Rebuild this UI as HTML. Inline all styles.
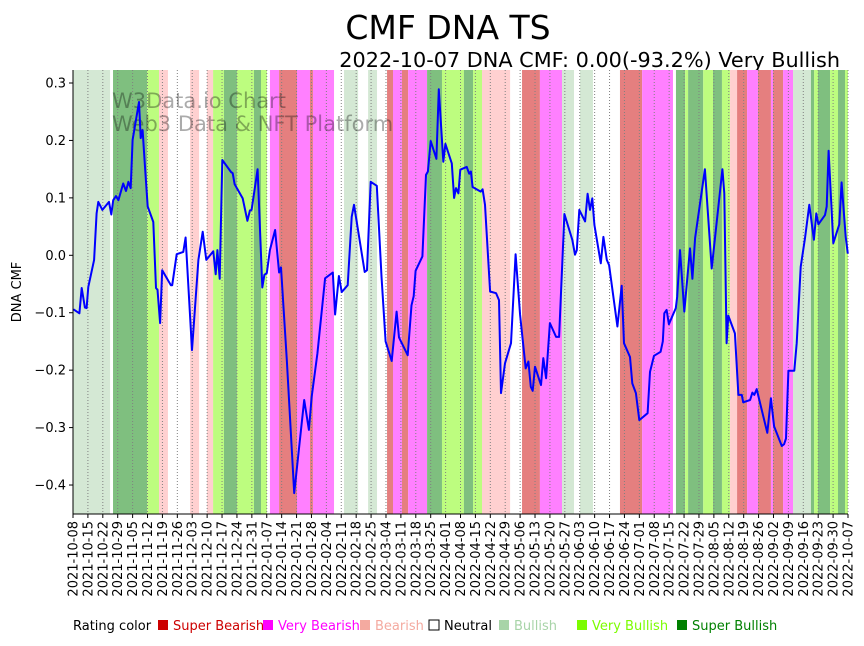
<!DOCTYPE html>
<html><head><meta charset="utf-8"><style>
body{margin:0;background:#fff;}
svg text{font-family:"DejaVu Sans","Liberation Sans",sans-serif;}
</style></head><body>
<svg id="chart" width="864" height="641" xmlns="http://www.w3.org/2000/svg">
<text x="448" y="39" font-size="33" text-anchor="middle">CMF DNA TS</text>
<text x="840" y="67" font-size="20.8" text-anchor="end">2022-10-07 DNA CMF: 0.00(-93.2%) Very Bullish</text>
<g id="bands"></g>
<g id="grid"></g>
<text x="112" y="108" font-size="21" fill="#000" fill-opacity="0.33">W3Data.io Chart</text>
<text x="112" y="131" font-size="21" fill="#000" fill-opacity="0.33">Web3 Data &amp; NFT Platform</text>
<g id="series"></g>
<g id="axes"></g>
<text transform="translate(21,292) rotate(-90)" font-size="13" text-anchor="middle">DNA CMF</text>
<g id="legend"></g>
</svg>
<script>
const ratingNames=["Super Bearish","Very Bearish","Bearish","Neutral","Bullish","Very Bullish","Super Bullish"];
const ratingColors=["#cc0000","#ff00ff","#f4aaa0","#ffffff","#a8d4a8","#7cfc00","#008000"];
const bandFills=["#e57f7f","#ff80ff","#ffd0d0","#ffffff","#d4e8d4","#bdfd7f","#7fbf7f"];
const bandStart=[0,18.8,34.8,40.4,55,62.9,65.8,70.9,77,85,88.3,92.5,96.8,105.2,111.3,112.7,127.3,138.6,147.5,150.3,154.5,157.4,166.3,173.3,183.6,187.9,192.1,210.9,219.3,229.7,238.1,256.9,267.3,283.2,287.5,288.9,296,300.6,304.8,308.6,311.9,316.6,321.7,327.8,328.8,333.5,338.2,346.6,348.1,349.9,355.6,359.3,362.6];
const bandEnd=[17.4,34.8,40.4,44.6,59.2,65.8,70.9,77,85,88.3,91.1,96.8,105.2,111.3,112.7,122.6,133.9,142.8,150.3,154.5,157.4,166.3,173.3,183.6,187.9,192.1,205.3,219.3,229.7,235.3,244.2,267.3,281.8,287.5,288.9,296,300.6,304.8,308.6,311.9,316.6,321.7,327.8,328.8,333.5,338.2,346.6,348.1,349.9,355.6,359.3,362.6,364];
const bandRating=[4,6,5,2,2,2,5,6,5,6,5,1,0,1,0,1,4,4,0,1,0,1,6,5,6,5,2,0,1,4,4,0,1,6,5,6,5,6,5,2,0,1,0,1,0,1,4,6,5,6,5,6,5];
const days=[0.2,3.0,4.1,5.6,6.4,7.2,9.9,11.1,11.9,13.8,16.9,18.0,18.9,20.2,21.3,23.6,24.9,26.0,27.1,28.0,31.0,31.8,32.7,33.8,35.1,37.7,39.0,39.7,40.9,41.9,46.0,46.6,48.7,51.8,52.9,55.9,58.9,60.9,62.6,65.9,67.0,67.8,68.9,70.1,74.2,75.0,75.9,79.7,81.9,83.1,83.9,86.7,88.9,89.9,91.0,92.5,94.9,96.8,97.7,100.4,103.9,108.6,110.8,112.1,114.8,118.4,122.0,123.1,124.9,126.2,129.0,130.9,132.0,137.0,138.1,139.8,142.7,144.9,146.8,149.7,152.0,153.1,157.2,159.0,160.0,160.9,164.1,165.8,166.7,168.0,170.7,171.8,173.9,174.9,177.9,179.0,179.9,181.0,181.9,184.9,186.1,186.9,187.7,191.5,192.4,193.5,195.9,198.7,200.1,201.0,202.9,205.7,207.9,210.0,212.6,213.9,215.0,215.9,217.0,219.8,220.9,222.2,224.0,226.9,228.3,230.8,234.5,235.8,236.6,237.8,240.5,241.7,242.8,243.9,244.9,247.9,249.1,250.7,251.8,255.7,257.7,258.8,261.6,262.7,264.4,266.0,269.9,271.0,272.9,276.0,277.0,277.7,278.8,279.9,283.1,283.8,285.1,287.1,289.8,290.9,292.2,296.8,300.0,305.0,305.9,307.0,307.8,310.9,312.5,314.1,314.8,318.0,319.1,320.0,321.1,326.1,327.8,329.3,332.9,334.0,334.9,336.0,338.8,339.9,341.8,343.8,345.8,348.0,349.1,350.1,353.2,354.0,354.9,357.1,359.9,361.0,362.9,363.9];
const values=[-0.094,-0.101,-0.057,-0.091,-0.092,-0.055,-0.008,0.073,0.093,0.079,0.093,0.071,0.096,0.103,0.096,0.125,0.112,0.128,0.117,0.201,0.267,0.204,0.218,0.154,0.085,0.058,-0.057,-0.060,-0.118,-0.026,-0.052,-0.052,0.002,0.006,0.031,-0.165,-0.008,0.041,-0.008,0.007,-0.033,0.009,-0.041,0.166,0.145,0.143,0.124,0.099,0.060,0.078,0.079,0.150,-0.056,-0.034,-0.031,0.009,0.044,-0.030,-0.021,-0.182,-0.414,-0.252,-0.304,-0.246,-0.171,-0.040,-0.030,-0.103,-0.036,-0.064,-0.052,0.067,0.088,-0.029,-0.026,0.128,0.121,-0.037,-0.150,-0.184,-0.098,-0.143,-0.174,-0.087,-0.071,-0.027,-0.002,0.140,0.146,0.199,0.168,0.289,0.163,0.194,0.160,0.100,0.117,0.108,0.149,0.154,0.142,0.146,0.119,0.111,0.115,0.088,-0.063,-0.066,-0.078,-0.240,-0.188,-0.153,0.002,-0.104,-0.197,-0.185,-0.229,-0.236,-0.194,-0.226,-0.179,-0.214,-0.118,-0.142,-0.142,0.072,0.027,0.001,0.009,0.079,0.059,0.107,0.079,0.099,0.053,-0.014,0.032,-0.008,-0.017,-0.124,-0.053,-0.153,-0.177,-0.223,-0.240,-0.287,-0.275,-0.203,-0.175,-0.168,-0.150,-0.101,-0.095,-0.120,-0.092,-0.072,0.009,-0.098,0.012,-0.041,0.030,0.150,-0.023,0.150,0.108,-0.153,-0.105,-0.136,-0.243,-0.243,-0.256,-0.252,-0.239,-0.243,-0.233,-0.309,-0.249,-0.298,-0.332,-0.329,-0.319,-0.201,-0.201,-0.153,-0.020,0.030,0.088,0.027,0.073,0.054,0.070,0.085,0.182,0.021,0.054,0.127,0.032,0.003];
const yTicks=[0.3,0.2,0.1,0.0,-0.1,-0.2,-0.3,-0.4];
const yTickLabels=["0.3","0.2","0.1","0.0","\u22120.1","\u22120.2","\u22120.3","\u22120.4"];

const NS="http://www.w3.org/2000/svg";
const X0=73,X1=848,Y0=70,Y1=514,DAYS=364;
const xs=d=>X0+(X1-X0)*d/DAYS;
const ys=v=>255.3-v*574.3;
function mk(tag,attrs,parent){const e=document.createElementNS(NS,tag);for(const k in attrs)e.setAttribute(k,attrs[k]);parent.appendChild(e);return e;}

const bands=document.getElementById('bands');
for(let i=0;i<bandStart.length;i++){
  const r=mk('rect',{x:xs(bandStart[i]),y:Y0,width:xs(bandEnd[i])-xs(bandStart[i]),height:Y1-Y0,fill:bandFills[bandRating[i]]},bands);
  
  
}
const grid=document.getElementById('grid'),axes=document.getElementById('axes');
const start=new Date(Date.UTC(2021,9,8));
for(let w=0;w<=52;w++){
  const d=w*7,x=xs(d);
  const gl=mk('line',{x1:x,x2:x,y1:Y0,y2:Y1,stroke:'#808080','stroke-width':1,'stroke-dasharray':'1,2'},grid);
  
  
  const t=mk('line',{x1:x,x2:x,y1:Y1,y2:Y1+4,stroke:'#000'},axes);
  
  
  const dt=new Date(start.getTime()+d*86400000);
  const lbl=dt.toISOString().slice(0,10);
  const tx=mk('text',{transform:`translate(${x+4.5},${Y1+7}) rotate(-90)`,'font-size':13,'text-anchor':'end'},axes);
  tx.textContent=lbl;
  
  
}
yTicks.forEach((v,i)=>{
  const y=ys(v);
  const t=mk('line',{x1:X0-4,x2:X0,y1:y,y2:y,stroke:'#000'},axes);
  
  
  const tx=mk('text',{x:X0-7,y:y+4.5,'font-size':13,'text-anchor':'end'},axes);
  tx.textContent=yTickLabels[i];
  
  
});
const la=mk('line',{x1:X0,x2:X0,y1:Y0,y2:Y1,stroke:'#000'},axes);


const ba=mk('line',{x1:X0,x2:X1,y1:Y1,y2:Y1,stroke:'#000'},axes);



const pts=days.map((d,i)=>xs(d).toFixed(1)+','+ys(values[i]).toFixed(1)).join(' ');
const pl=mk('polyline',{points:pts,fill:'none',stroke:'#0000ff','stroke-width':2,'stroke-linejoin':'round'},document.getElementById('series'));



const lg=document.getElementById('legend');
const lt=mk('text',{x:73,y:630,'font-size':13},lg);
lt.textContent='Rating color';


const legX=[158,263,360,429,499,577,677];
const textColors=["#cc0000","#ff00ff","#f4aaa0","#000000","#a8d4a8","#7cfc00","#008000"];
ratingNames.forEach((n,i)=>{
  const sq=mk('rect',{x:legX[i],y:620,width:10,height:10,fill:ratingColors[i],stroke:i===3?'#000':'none','stroke-width':1},lg);
  
  
  const tx=mk('text',{x:legX[i]+15,y:630,'font-size':13,fill:textColors[i]},lg);
  tx.textContent=n;
  
  
});
</script>
</body></html>
